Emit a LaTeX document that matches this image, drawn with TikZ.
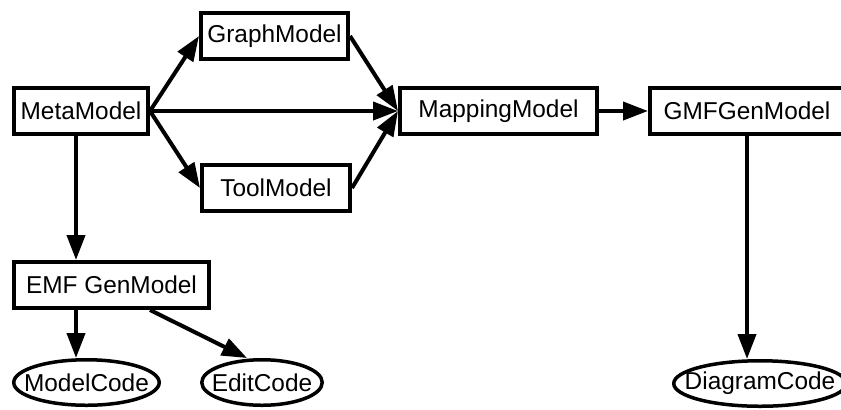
\documentclass[tikz,border=0pt]{standalone}
\usepackage{fontspec}
\setmainfont{Liberation Sans}
\usetikzlibrary{arrows.meta,positioning,shapes.geometric}
\tikzset{%
  % classes
  model/.style={draw, line width=2pt, minimum height=23pt, inner sep=2pt,
    font=\fontsize{12.2}{14}\selectfont},
  code/.style={ellipse, draw, line width=1.75pt, minimum height=22.75pt,
    inner sep=0pt, font=\fontsize{12.2}{14}\selectfont},
  % edge styles
  rel/.style={-{Triangle[length=12.5pt, width=9pt]}, line width=2pt},
}
\newcommand{\tight}[1]{\makebox[0pt]{#1}}

\begin{document}
\begin{tikzpicture}
  \useasboundingbox (0,0) rectangle (420.5pt,-204.5pt);
  \clip (0,0) rectangle (420.5pt,-204.5pt);

  \node[model, minimum width=67pt] (meta) at (40.5pt,-55.5pt) {MetaModel};
  \node[model, minimum width=73.5pt, above right=12.5pt and 24.5pt of meta] (graph) {GraphModel};
  \node[model, minimum width=74pt, below right=13.5pt and 25pt of meta] (tool) {ToolModel};
  \node[model, minimum width=98.5pt, right=124pt of meta] (map) {MappingModel};
  \node[model, minimum width=97pt, right=24.5pt of map] (gmf) {GMFGenModel};
  \node[model, minimum width=97.5pt, below=62pt of meta.south west, anchor=north west] (emf) {EMF GenModel};

  \node[code, minimum width=72.75pt, below=24pt of emf, xshift=-12.5pt] (mcode) {\tight{ModelCode}};
  \node[code, minimum width=60.25pt, right=19.5pt of mcode] (ecode) {\tight{EditCode}};
  \node[code, minimum width=86.25pt, below=111.5pt of gmf, xshift=6.5pt] (dcode) {\tight{DiagramCode}};

  \draw[rel] (meta.east) -- (graph.west);
  \draw[rel] (meta.east) -- (map.west);
  \draw[rel] (meta.east) -- (tool.west);
  \draw[rel] (graph.east) -- (map.west);
  \draw[rel] (tool.east) -- (map.west);
  \draw[rel] (map) -- (gmf);
  \draw[rel] ([xshift=32pt]meta.south west) -- ([xshift=32pt]emf.north west);
  \draw[rel] ([xshift=32pt]emf.south west) -- ([xshift=-5.25pt]mcode.north);
  \draw[rel] ([xshift=-30.5pt]emf.south east) -- ([xshift=-7.5pt]ecode.north);
  \draw[rel] (gmf.south) -- (gmf.south |- dcode.north);
\end{tikzpicture}
\end{document}
